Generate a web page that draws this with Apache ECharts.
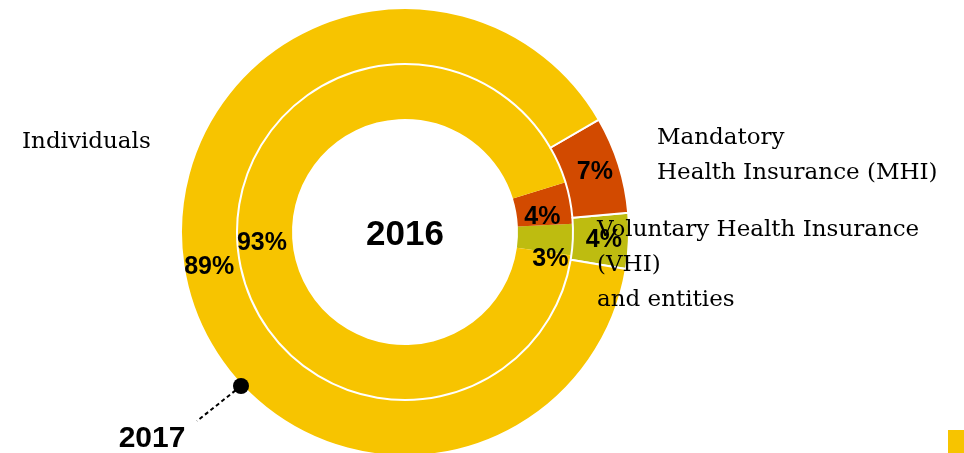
<!DOCTYPE html>
<html>
<head>
<meta charset="utf-8">
<style>
  html, body { margin: 0; padding: 0; background: #fff; }
  #chart { width: 964px; height: 453px; }
</style>
<script src="https://cdn.jsdelivr.net/npm/echarts@6/dist/echarts.min.js"></script>
</head>
<body>
<div id="chart"></div>
<script>
// Funding sources of healthcare spending, shares in %
const categories = ['Voluntary Health Insurance (VHI) and entities', 'Mandatory Health Insurance (MHI)', 'Individuals'];
const share2016 = [3, 4, 93];
const share2017 = [4, 7, 89];
const colors = ['#BEBC10', '#D24A00', '#F7C400'];

// label nudges for the narrow inner slices
const innerLabelOffsets = [[2, 21], [-4, 10], [0, 0]];

const cx = 405, cy = 232;

function ringData(values, offsets) {
  return categories.map((name, i) => ({
    name: name,
    value: values[i],
    itemStyle: { color: colors[i] },
    label: offsets ? { offset: offsets[i] } : {}
  }));
}

const pctLabel = {
  show: true,
  position: 'inside',
  formatter: '{c}%',
  color: '#000',
  fontFamily: 'Liberation Sans, Arial, sans-serif',
  fontWeight: 'bold',
  fontSize: 25
};

const serif = 'DejaVu Serif, serif';

const chart = echarts.init(document.getElementById('chart'), null, { renderer: 'canvas' });
chart.setOption({
  animation: false,
  backgroundColor: '#fff',
  series: [
    {
      name: '2016',
      type: 'pie',
      center: [cx, cy],
      radius: [113, 168],
      startAngle: -8,
      clockwise: false,
      silent: true,
      z: 2,
      label: pctLabel,
      labelLine: { show: false },
      itemStyle: { borderWidth: 0 },
      data: ringData(share2016, innerLabelOffsets)
    },
    {
      name: '2017',
      type: 'pie',
      center: [cx, cy],
      radius: [168, 224],
      startAngle: -9.5,
      clockwise: false,
      silent: true,
      z: 2,
      label: pctLabel,
      labelLine: { show: false },
      itemStyle: { borderColor: '#fff', borderWidth: 2 },
      data: ringData(share2017)
    }
  ],
  graphic: [
    { type: 'text', z: 100, style: { text: '2016', x: cx, y: cy + 3, align: 'center', verticalAlign: 'middle', fill: '#000', font: 'bold 35px Liberation Sans, Arial, sans-serif' } },
    { type: 'text', z: 100, style: { text: '2017', x: 152, y: 439, align: 'center', verticalAlign: 'middle', fill: '#000', font: 'bold 30px Liberation Sans, Arial, sans-serif' } },
    { type: 'line', z: 100, shape: { x1: 241, y1: 386, x2: 197, y2: 421 }, style: { stroke: '#000', lineWidth: 2, lineDash: [4, 3] } },
    { type: 'circle', z: 100, shape: { cx: 241, cy: 386, r: 8 }, style: { fill: '#000' } },
    { type: 'text', z: 100, style: { text: 'Individuals', x: 22, y: 142, verticalAlign: 'middle', fill: '#000', font: '23px ' + serif } },
    { type: 'text', z: 100, style: { text: 'Mandatory\nHealth Insurance (MHI)', x: 657, y: 121, lineHeight: 35, fill: '#000', font: '23px ' + serif } },
    { type: 'text', z: 100, style: { text: 'Voluntary Health Insurance\n(VHI)\nand entities', x: 597, y: 213, lineHeight: 35, fill: '#000', font: '23px ' + serif } },
    { type: 'rect', z: 100, shape: { x: 948, y: 430, width: 16, height: 23 }, style: { fill: '#F7C400' } }
  ]
});
</script>
</body>
</html>
